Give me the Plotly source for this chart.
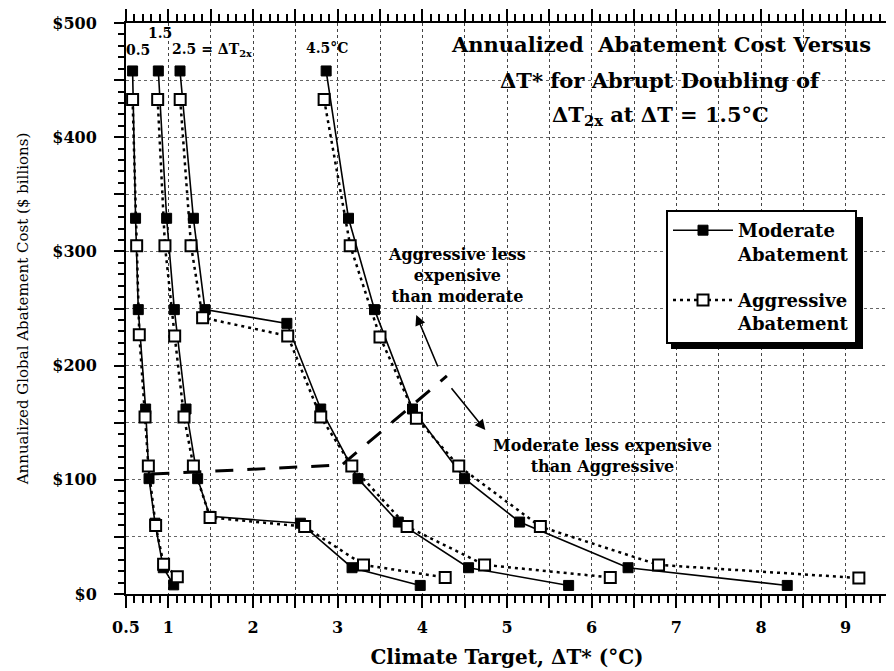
import plotly.graph_objects as go

# ---- data ----
# Moderate abatement (filled squares) per climate sensitivity curve
mod_x_05 = [0.578, 0.613, 0.645, 0.732, 0.772, 0.843, 0.94, 1.063]
mod_y_05 = [458, 329, 249, 162, 101, 62, 23, 8]
agg_x_05 = [0.578, 0.626, 0.657, 0.725, 0.764, 0.85, 0.944, 1.106]
agg_y_05 = [433, 305, 227, 155, 112, 60, 26, 15]

mod_x_15 = [0.882, 0.98, 1.071, 1.209, 1.346, 1.49, 2.56, 3.17, 3.975]
mod_y_15 = [458, 329, 249, 162, 101, 68, 62, 23, 7.5]
agg_x_15 = [0.874, 0.96, 1.075, 1.185, 1.296, 1.493, 2.61, 3.305, 4.27]
agg_y_15 = [433, 305, 226, 155, 112, 67, 59, 25.5, 14.5]

mod_x_25 = [1.138, 1.296, 1.433, 2.40, 2.80, 3.24, 3.716, 4.546, 5.728]
mod_y_25 = [458, 329, 249, 237, 162, 101, 63, 23, 7.5]
agg_x_25 = [1.14, 1.268, 1.405, 2.41, 2.80, 3.167, 3.82, 4.735, 6.22]
agg_y_25 = [433, 305, 242, 226, 155, 112, 59, 25.5, 14.5]

mod_x_45 = [2.864, 3.128, 3.435, 3.884, 4.499, 5.149, 6.43, 8.31]
mod_y_45 = [458, 329, 249, 162, 101, 63, 23, 7.5]
agg_x_45 = [2.84, 3.148, 3.50, 3.93, 4.43, 5.394, 6.79, 9.156]
agg_y_45 = [433, 305, 225, 154, 112, 59, 25.5, 14]

# boundary between "aggressive cheaper" and "moderate cheaper"
boundary_x = [0.80, 3.05, 4.29]
boundary_y = [105, 113, 191]

x_tickvals = [0.5, 1, 1.5, 2, 2.5, 3, 3.5, 4, 4.5, 5, 5.5, 6, 6.5, 7, 7.5, 8, 8.5, 9]
x_ticktext = ["0.5", "1", "", "2", "", "3", "", "4", "", "5", "", "6", "", "7", "", "8", "", "9"]
y_tickvals = [0, 50, 100, 150, 200, 250, 300, 350, 400, 450, 500]
y_ticktext = ["$0", "", "$100", "", "$200", "", "$300", "", "$400", "", "$500"]

FONT = "DejaVu Serif, serif"

fig = go.Figure()

moderate = [(mod_x_05, mod_y_05), (mod_x_15, mod_y_15), (mod_x_25, mod_y_25), (mod_x_45, mod_y_45)]
aggressive = [(agg_x_05, agg_y_05), (agg_x_15, agg_y_15), (agg_x_25, agg_y_25), (agg_x_45, agg_y_45)]

fig.add_trace(go.Scatter(x=boundary_x, y=boundary_y, mode="lines",
                         line=dict(color="black", width=3, dash="18px,14px"),
                         showlegend=False, hoverinfo="skip"))

for i, (xs, ys) in enumerate(moderate):
    fig.add_trace(go.Scatter(
        x=xs, y=ys, mode="lines+markers",
        name="Moderate<br>Abatement", legendgroup="mod", showlegend=(i == 0),
        line=dict(color="black", width=1.6),
        marker=dict(symbol="square", size=10, color="black",
                    line=dict(color="black", width=1))))

for i, (xs, ys) in enumerate(aggressive):
    fig.add_trace(go.Scatter(
        x=xs, y=ys, mode="lines+markers",
        name="Aggressive<br>Abatement", legendgroup="agg", showlegend=(i == 0),
        line=dict(color="black", width=2.5, dash="3px,4px"),
        marker=dict(symbol="square", size=11, color="white",
                    line=dict(color="black", width=2))))

annotations = []
# curve labels
lab_font = dict(family=FONT, size=14, color="black")
annotations.append(dict(x=0.64, y=476, text="<b>0.5</b>", showarrow=False, font=lab_font))
annotations.append(dict(x=0.905, y=491, text="<b>1.5</b>", showarrow=False, font=lab_font))
annotations.append(dict(x=1.02, y=476, xanchor="left", text="<b>2.5 = ΔT<sub>2x</sub></b>",
                        showarrow=False, font=lab_font))
annotations.append(dict(x=2.88, y=478, text="<b>4.5°C</b>", showarrow=False, font=lab_font))

# title lines
title_font = dict(family=FONT, size=21, color="black")
annotations.append(dict(x=6.815, y=481.6, text="<b>Annualized  Abatement Cost Versus</b>",
                        showarrow=False, font=title_font))
annotations.append(dict(x=6.815, y=450, text="<b>ΔT* for Abrupt Doubling of</b>",
                        showarrow=False, font=title_font))
annotations.append(dict(x=6.815, y=419.4, text="<b>ΔT<sub>2x</sub> at ΔT = 1.5°C</b>",
                        showarrow=False, font=title_font))

# region notes and arrows
note_font = dict(family=FONT, size=16, color="black")
annotations.append(dict(x=4.404, y=279.3, text="<b>Aggressive less<br>expensive<br>than moderate</b>",
                        showarrow=False, font=note_font))
annotations.append(dict(x=6.13, y=120.8, text="<b>Moderate less expensive<br>than Aggressive</b>",
                        showarrow=False, font=note_font))
annotations.append(dict(x=3.928, y=244.3, ax=4.19, ay=197.9, axref="x", ayref="y",
                        text="", showarrow=True, arrowhead=2, arrowsize=1.3, arrowwidth=1.6,
                        arrowcolor="black"))
annotations.append(dict(x=4.744, y=143.6, ax=4.33, ay=181.5, axref="x", ayref="y",
                        text="", showarrow=True, arrowhead=2, arrowsize=1.3, arrowwidth=1.6,
                        arrowcolor="black"))

# plot-area pixel geometry (page has an 8px body offset, compensated in the margins)
PL, PR, PT, PB = 126, 888, 23, 594
def px(xpix):
    return (xpix - PL) / (PR - PL)
def py(ypix):
    return (PB - ypix) / (PB - PT)

# legend drop shadow (plain decoration behind the legend box)
shapes = [dict(type="rect", xref="paper", yref="paper",
               x0=px(671), x1=px(863), y0=py(349), y1=py(217),
               fillcolor="black", line=dict(width=0), layer="above")]

fig.update_layout(
    width=886, height=663,
    margin=dict(l=118, r=6, t=15, b=77),
    paper_bgcolor="white", plot_bgcolor="white",
    font=dict(family=FONT, color="black"),
    annotations=annotations,
    shapes=shapes,
    legend=dict(x=px(666), y=py(210), xanchor="left", yanchor="top",
                bgcolor="white", bordercolor="black", borderwidth=2,
                font=dict(family=FONT, size=18, color="black", weight="bold"),
                valign="top", tracegroupgap=20, itemwidth=60),
    xaxis=dict(range=[0.5, 9.5], tickmode="array", tickvals=x_tickvals, ticktext=x_ticktext,
               automargin=False,
               showline=True, linecolor="black", linewidth=2, mirror="allticks",
               ticks="outside", ticklen=12, tickwidth=2, tickcolor="black",
               ticklabelstandoff=6,
               minor=dict(dtick=0.1, tick0=0.5, ticks="outside", ticklen=7, tickwidth=1.5,
                          tickcolor="black", showgrid=False),
               showgrid=True, gridcolor="#444", griddash="dot", gridwidth=1,
               zeroline=False,
               tickfont=dict(family=FONT, size=16, color="black", weight="bold"),
               title=dict(text="Climate Target, ΔT* (°C)", standoff=14,
                          font=dict(family=FONT, size=20, color="black", weight="bold"))),
    yaxis=dict(range=[0, 500], tickmode="array", tickvals=y_tickvals, ticktext=y_ticktext,
               automargin=False,
               showline=True, linecolor="black", linewidth=2, mirror="allticks",
               ticks="outside", ticklen=10, tickwidth=2, tickcolor="black",
               ticklabelstandoff=14,
               minor=dict(dtick=10, tick0=0, ticks="outside", ticklen=6, tickwidth=1.5,
                          tickcolor="black", showgrid=False),
               showgrid=True, gridcolor="#666", griddash="dot", gridwidth=1,
               zeroline=False,
               tickfont=dict(family=FONT, size=16, color="black", weight="bold"),
               title=dict(text="Annualized Global Abatement Cost ($ billions)", standoff=20,
                          font=dict(family=FONT, size=15, color="black"))),
)

fig.write_html("out.html")
